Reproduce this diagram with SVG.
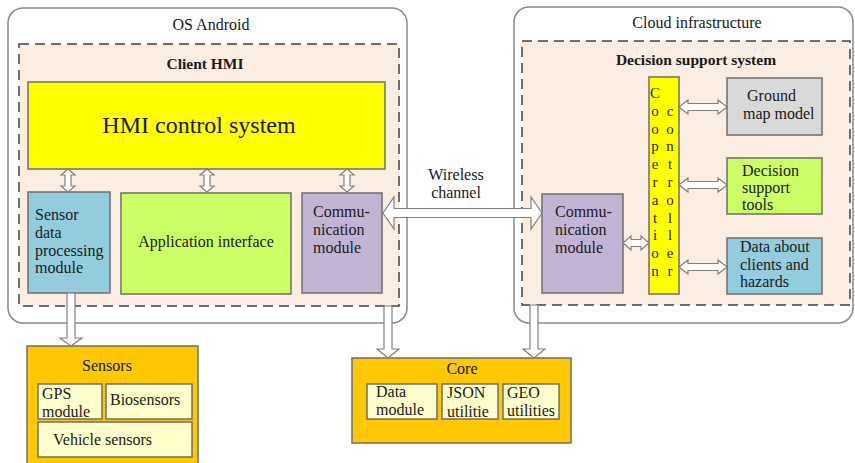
<svg xmlns="http://www.w3.org/2000/svg" width="855" height="463" viewBox="0 0 855 463" font-family="'Liberation Serif', 'DejaVu Serif', serif">
<style>
text{font-family:'Liberation Serif','DejaVu Serif',serif;font-size:16px;fill:#1a1a1a}
.b{font-weight:bold;font-size:15.5px}
.c{text-anchor:middle}
.outer{fill:#fff;stroke:#8a8a8a;stroke-width:1.5}
.dash{fill:#fcede3;stroke:#404040;stroke-width:1.5;stroke-dasharray:10 6}
.box{stroke:#6e6e6e;stroke-width:1.5}
.arr{fill:#fff;stroke:#808080;stroke-width:1.2;stroke-linejoin:miter}
.lt{font-size:15px;fill:#2a2a00}
</style>
<rect width="855" height="463" fill="#fff"/>
<g id="os-android">
<rect class="outer" x="8" y="8" width="399" height="315" rx="15"/>
<text class="c" x="211" y="30">OS Android</text>
</g>
<g id="cloud-infrastructure">
<rect class="outer" x="514" y="7" width="339" height="316" rx="15"/>
<text class="c" x="697" y="28">Cloud infrastructure</text>
</g>
<g id="client-hmi">
<rect class="dash" x="19" y="44" width="380" height="262"/>
<text class="b c" x="205" y="69">Client HMI</text>
</g>
<g id="decision-support-system">
<rect class="dash" x="522" y="41" width="328" height="264"/>
<text class="b c" x="696" y="65">Decision support system</text>
</g>
<g id="hmi-control-system">
<rect class="box" x="28" y="82" width="357" height="87" fill="#ffff00"/>
<text class="c" x="199" y="133" style="font-size:24px">HMI control system</text>
</g>
<g id="sensor-data-processing-module">
<rect class="box" x="28" y="192" width="82" height="101" fill="#93cddd"/>
<text x="35" y="220">Sensor</text>
<text x="35" y="238">data</text>
<text x="35" y="256">processing</text>
<text x="35" y="273">module</text>
</g>
<g id="application-interface">
<rect class="box" x="121" y="193" width="170" height="101" fill="#ccff66"/>
<text class="c" x="206" y="247">Application interface</text>
</g>
<g id="communication-module-client">
<rect class="box" x="302" y="193" width="80" height="100" fill="#c3b4d6"/>
<text x="313" y="217">Commu-</text>
<text x="313" y="235">nication</text>
<text x="313" y="253">module</text>
</g>
<g id="communication-module-cloud">
<rect class="box" x="542" y="194" width="81" height="99" fill="#c3b4d6"/>
<text x="555" y="217">Commu-</text>
<text x="555" y="235">nication</text>
<text x="555" y="253">module</text>
</g>
<g id="cooperation-controller">
<rect class="box" x="649" y="77" width="30" height="217" fill="#ffff00"/>
<text class="lt c" x="655"><tspan x="655" y="98">C</tspan><tspan x="655" y="115.8">o</tspan><tspan x="655" y="133.6">o</tspan><tspan x="655" y="151.4">p</tspan><tspan x="655" y="169.2">e</tspan><tspan x="655" y="187">r</tspan><tspan x="655" y="204.8">a</tspan><tspan x="655" y="222.6">t</tspan><tspan x="655" y="240.4">i</tspan><tspan x="655" y="258.2">o</tspan><tspan x="655" y="276">n</tspan></text>
<text class="lt c" x="670"><tspan x="670" y="115.8">c</tspan><tspan x="670" y="133.6">o</tspan><tspan x="670" y="151.4">n</tspan><tspan x="670" y="169.2">t</tspan><tspan x="670" y="187">r</tspan><tspan x="670" y="204.8">o</tspan><tspan x="670" y="222.6">l</tspan><tspan x="670" y="240.4">l</tspan><tspan x="670" y="258.2">e</tspan><tspan x="670" y="276">r</tspan></text>
</g>
<g id="ground-map-model">
<rect class="box" x="727" y="78" width="95" height="57" fill="#d9d9d9"/>
<text x="747" y="101">Ground</text>
<text x="743" y="119">map model</text>
</g>
<g id="decision-support-tools">
<rect class="box" x="727" y="158" width="95" height="56" fill="#ccff66"/>
<text x="742" y="176">Decision</text>
<text x="742" y="193">support</text>
<text x="742" y="210">tools</text>
</g>
<g id="data-about-clients">
<rect class="box" x="727" y="238" width="95" height="56" fill="#93cddd"/>
<text x="740" y="252">Data about</text>
<text x="740" y="270">clients and</text>
<text x="740" y="287">hazards</text>
</g>
<g id="sensors">
<rect class="box" x="27" y="346" width="171" height="122" fill="#ffc800"/>
<text class="c" x="107" y="371">Sensors</text>
<rect class="box" x="38" y="384" width="64" height="35" fill="#ffffcc"/>
<text x="42" y="399">GPS</text>
<text x="42" y="417">module</text>
<rect class="box" x="106" y="384" width="86" height="35" fill="#ffffcc"/>
<text x="110" y="405">Biosensors</text>
<rect class="box" x="38" y="422" width="154" height="35" fill="#ffffcc"/>
<text x="53" y="445">Vehicle sensors</text>
</g>
<g id="core">
<rect class="box" x="352" y="358" width="219" height="85" fill="#ffc800"/>
<text class="c" x="462" y="374">Core</text>
<rect class="box" x="367" y="384" width="70" height="35" fill="#ffffcc"/>
<text x="376" y="397">Data</text>
<text x="376" y="415">module</text>
<rect class="box" x="442" y="384" width="56" height="35" fill="#ffffcc"/>
<text x="447" y="398">JSON</text>
<text x="447" y="417">utilitie</text>
<rect class="box" x="503" y="384" width="56" height="35" fill="#ffffcc"/>
<text x="507" y="398">GEO</text>
<text x="507" y="416">utilities</text>
</g>
<g id="connectors">
<path class="arr" d="M68 169 L75 175 L71 175 L71 186 L75 186 L68 192 L61 186 L65 186 L65 175 L61 175 Z"/>
<path class="arr" d="M207 169 L214 175 L210 175 L210 186 L214 186 L207 192 L200 186 L204 186 L204 175 L200 175 Z"/>
<path class="arr" d="M347 169 L354 175 L350 175 L350 186 L354 186 L347 192 L340 186 L344 186 L344 175 L340 175 Z"/>
<path class="arr" d="M679 107 L688 100 L688 103.5 L718 103.5 L718 100 L727 107 L718 114 L718 110.5 L688 110.5 L688 114 Z"/>
<path class="arr" d="M679 185 L688 178 L688 181.5 L718 181.5 L718 178 L727 185 L718 192 L718 188.5 L688 188.5 L688 192 Z"/>
<path class="arr" d="M679 267 L688 260 L688 263.5 L718 263.5 L718 260 L727 267 L718 274 L718 270.5 L688 270.5 L688 274 Z"/>
<path class="arr" d="M623 243 L631 236 L631 239.5 L641 239.5 L641 236 L649 243 L641 250 L641 246.5 L631 246.5 L631 250 Z"/>
<path class="arr" d="M383 213 L394 197 L394 208.5 L531 208.5 L531 197 L542 213 L531 229 L531 217.5 L394 217.5 L394 229 Z"/>
<text class="c" x="456" y="180">Wireless</text>
<text class="c" x="456" y="198">channel</text>
<path class="arr" d="M67 293 L75 293 L75 338 L82 338 L71 346 L60 338 L67 338 Z"/>
<path class="arr" d="M384 306 L392 306 L392 349 L399 349 L388 358 L377 349 L384 349 Z"/>
<path class="arr" d="M530 305 L538 305 L538 349 L545 349 L534 358 L523 349 L530 349 Z"/>
</g>
</svg>
